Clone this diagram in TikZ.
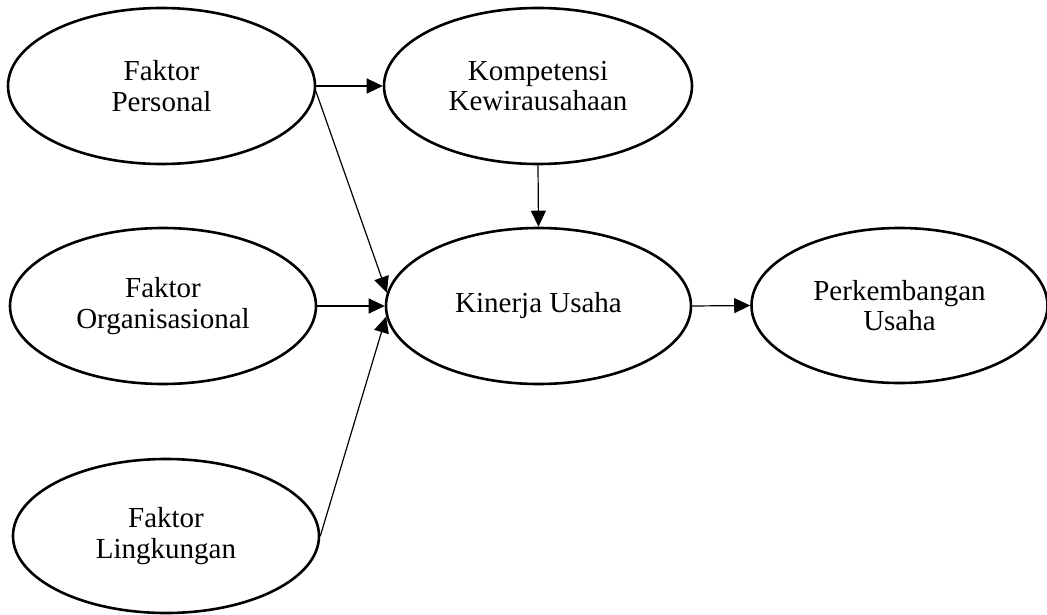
\documentclass[tikz,border=0pt]{standalone}
\usepackage{fontspec}
\setmainfont{Liberation Serif}
\usetikzlibrary{shapes.geometric,arrows.meta}
\tikzset{
  var/.style={ellipse, draw, line width=2.6pt, inner sep=0pt, align=center,
    font=\fontsize{29}{30.5}\selectfont},
  link/.style={line width=1.2pt, -{Triangle[length=16pt,width=15pt]}, shorten >=0pt}
}
\begin{document}
\begin{tikzpicture}[x=1pt,y=-1pt]
\useasboundingbox (0,0) rectangle (1047,615);
\node[var, minimum width=307pt, minimum height=156pt] (per) at (161.5,86) {Faktor\\Personal};
\node[var, minimum width=308pt, minimum height=156pt] (kom) at (538,86) {Kompetensi\\Kewirausahaan};
\node[var, minimum width=306pt, minimum height=156pt] (org) at (163,306) {Faktor\\Organisasional};
\node[var, minimum width=305pt, minimum height=156pt] (kin) at (538.5,306) {Kinerja Usaha};
\node[var, minimum width=296pt, minimum height=155pt] (pkb) at (899.5,305.5) {Perkembangan\\Usaha};
\node[var, minimum width=306pt, minimum height=154pt] (lin) at (166,536) {Faktor\\Lingkungan};
\draw[link] (per.east) -- (kom.west);
\draw[link] (kom.south) -- (kin.north);
\draw[link] (per.-2) -- (kin.175.5);
\draw[link] (org.east) -- (kin.west);
\draw[link] (lin.east) -- (kin.184.5);
\draw[link] (kin.east) -- (pkb.west);
\end{tikzpicture}
\end{document}
